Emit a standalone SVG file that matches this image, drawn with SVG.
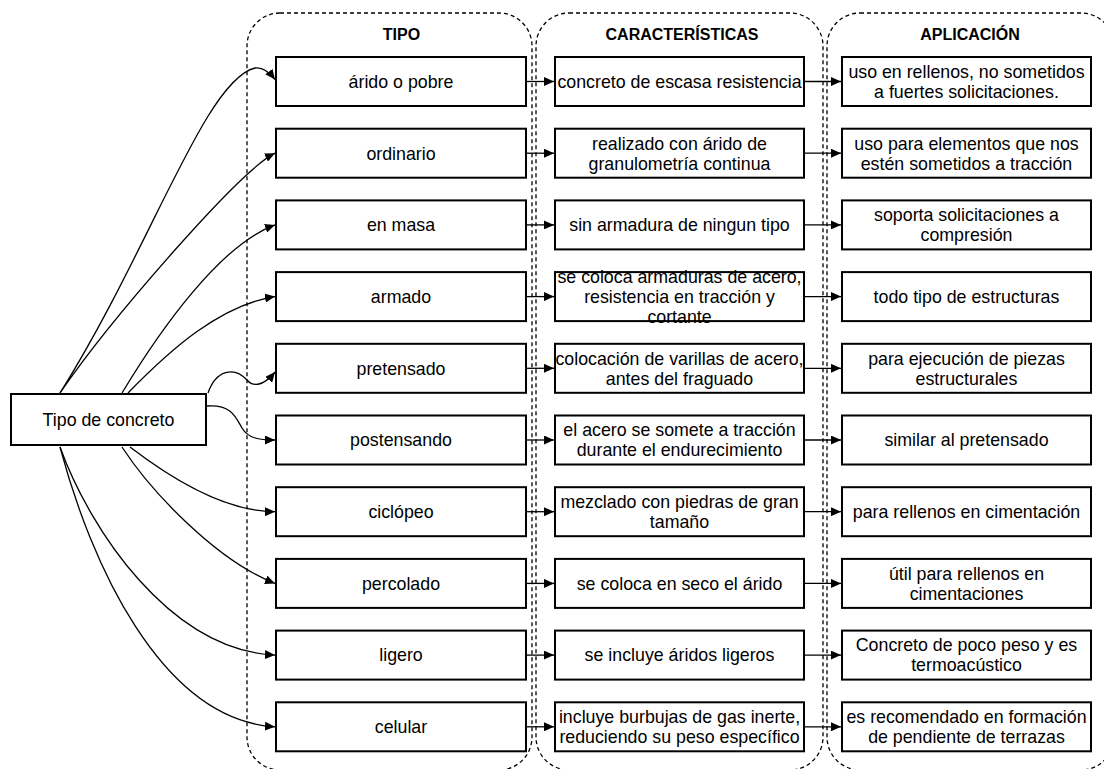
<svg xmlns="http://www.w3.org/2000/svg" width="1104" height="769" viewBox="0 0 1104 769">
<style>
.lane{fill:none;stroke:#000;stroke-width:1.3;stroke-dasharray:4 3}
.box{fill:none;stroke:#000;stroke-width:2}
.t{font-family:"Liberation Sans",Arial,sans-serif;font-size:17.8px;text-anchor:middle;fill:#000}
.h{font-family:"Liberation Sans",Arial,sans-serif;font-size:16px;font-weight:bold;text-anchor:middle;fill:#000}
.c{fill:none;stroke:#000;stroke-width:1.3;marker-end:url(#arr)}
</style>
<defs>
<marker id="arr" markerWidth="10" markerHeight="9" refX="10" refY="4.5" orient="auto" markerUnits="userSpaceOnUse"><path d="M0,0 L10,4.5 L0,9 Z" fill="#000"/></marker>
</defs>
<rect width="1104" height="769" fill="#fff"/>
<g id="lane-tipo"><rect class="lane" x="247" y="13" width="285" height="757" rx="33"/><text class="h" x="401.5" y="40">TIPO</text></g>
<g id="lane-caracteristicas"><rect class="lane" x="536" y="13" width="287" height="757" rx="33"/><text class="h" x="682" y="40">CARACTERÍSTICAS</text></g>
<g id="lane-aplicacion"><rect class="lane" x="827" y="13" width="287" height="757" rx="33"/><text class="h" x="970" y="40">APLICACIÓN</text></g>

<g id="connectors">
<path class="c" d="M60,393 C150,250 205,80 255,68 C263,67 270,73 275,79.5"/>
<path class="c" d="M60,393 C110,320 240,170 275,153.2"/>
<path class="c" d="M122,393 C160,330 220,245 275,224.9"/>
<path class="c" d="M128,393 C170,350 220,305 275,296.6"/>
<path class="c" d="M208,393 C216,370 234,366 247,380 C252,386 262,388 275,372"/>
<path class="c" d="M207,406 C232,404 236,418 242,428 C248,438 258,440 275,440"/>
<path class="c" d="M130,447 C160,470 220,511.7 275,511.7"/>
<path class="c" d="M122,447 C150,490 215,560 275,583.4"/>
<path class="c" d="M60,447 C90,530 170,650 275,655.1"/>
<path class="c" d="M60,447 C90,560 160,720 275,726.8"/>
<path class="c" d="M527,81.5 H554"/><path class="c" d="M805,81.5 H841"/>
<path class="c" d="M527,153.2 H554"/><path class="c" d="M805,153.2 H841"/>
<path class="c" d="M527,224.9 H554"/><path class="c" d="M805,224.9 H841"/>
<path class="c" d="M527,296.6 H554"/><path class="c" d="M805,296.6 H841"/>
<path class="c" d="M527,368.3 H554"/><path class="c" d="M805,368.3 H841"/>
<path class="c" d="M527,440 H554"/><path class="c" d="M805,440 H841"/>
<path class="c" d="M527,511.7 H554"/><path class="c" d="M805,511.7 H841"/>
<path class="c" d="M527,583.4 H554"/><path class="c" d="M805,583.4 H841"/>
<path class="c" d="M527,655.1 H554"/><path class="c" d="M805,655.1 H841"/>
<path class="c" d="M527,726.8 H554"/><path class="c" d="M805,726.8 H841"/>
</g>

<g id="tipo-de-concreto"><text class="t" x="108.5" y="426.3">Tipo de concreto</text><rect class="box" x="11" y="394" width="195" height="51"/></g>

<g id="tipo-arido"><text class="t" x="401" y="87.8">árido o pobre</text><rect class="box" x="276" y="57" width="250" height="49"/></g>
<g id="tipo-ordinario"><text class="t" x="401" y="159.5">ordinario</text><rect class="box" x="276" y="128.7" width="250" height="49"/></g>
<g id="tipo-masa"><text class="t" x="401" y="231.2">en masa</text><rect class="box" x="276" y="200.4" width="250" height="49"/></g>
<g id="tipo-armado"><text class="t" x="401" y="302.9">armado</text><rect class="box" x="276" y="272.1" width="250" height="49"/></g>
<g id="tipo-pretensado"><text class="t" x="401" y="374.6">pretensado</text><rect class="box" x="276" y="343.8" width="250" height="49"/></g>
<g id="tipo-postensando"><text class="t" x="401" y="446.3">postensando</text><rect class="box" x="276" y="415.5" width="250" height="49"/></g>
<g id="tipo-ciclopeo"><text class="t" x="401" y="518">ciclópeo</text><rect class="box" x="276" y="487.2" width="250" height="49"/></g>
<g id="tipo-percolado"><text class="t" x="401" y="589.7">percolado</text><rect class="box" x="276" y="558.9" width="250" height="49"/></g>
<g id="tipo-ligero"><text class="t" x="401" y="661.4">ligero</text><rect class="box" x="276" y="630.6" width="250" height="49"/></g>
<g id="tipo-celular"><text class="t" x="401" y="733.1">celular</text><rect class="box" x="276" y="702.3" width="250" height="49"/></g>

<g id="car-0"><text class="t" x="679.5" y="87.8">concreto de escasa resistencia</text><rect class="box" x="555" y="57" width="249" height="49"/></g>
<g id="car-1"><text class="t" x="679.5" y="149.5">realizado con árido de</text><text class="t" x="679.5" y="169.5">granulometría continua</text><rect class="box" x="555" y="128.7" width="249" height="49"/></g>
<g id="car-2"><text class="t" x="679.5" y="231.2">sin armadura de ningun tipo</text><rect class="box" x="555" y="200.4" width="249" height="49"/></g>
<g id="car-3"><text class="t" x="679.5" y="282.9">se coloca armaduras de acero,</text><text class="t" x="679.5" y="302.9">resistencia en tracción y</text><text class="t" x="679.5" y="322.9">cortante</text><rect class="box" x="555" y="272.1" width="249" height="49"/></g>
<g id="car-4"><text class="t" x="679.5" y="364.6">colocación de varillas de acero,</text><text class="t" x="679.5" y="384.6">antes del fraguado</text><rect class="box" x="555" y="343.8" width="249" height="49"/></g>
<g id="car-5"><text class="t" x="679.5" y="436.3">el acero se somete a tracción</text><text class="t" x="679.5" y="456.3">durante el endurecimiento</text><rect class="box" x="555" y="415.5" width="249" height="49"/></g>
<g id="car-6"><text class="t" x="679.5" y="508">mezclado con piedras de gran</text><text class="t" x="679.5" y="528">tamaño</text><rect class="box" x="555" y="487.2" width="249" height="49"/></g>
<g id="car-7"><text class="t" x="679.5" y="589.7">se coloca en seco el árido</text><rect class="box" x="555" y="558.9" width="249" height="49"/></g>
<g id="car-8"><text class="t" x="679.5" y="661.4">se incluye áridos ligeros</text><rect class="box" x="555" y="630.6" width="249" height="49"/></g>
<g id="car-9"><text class="t" x="679.5" y="723.1">incluye burbujas de gas inerte,</text><text class="t" x="679.5" y="743.1">reduciendo su peso específico</text><rect class="box" x="555" y="702.3" width="249" height="49"/></g>

<g id="apl-0"><text class="t" x="966.5" y="77.8">uso en rellenos, no sometidos</text><text class="t" x="966.5" y="97.8">a fuertes solicitaciones.</text><rect class="box" x="842" y="57" width="249" height="49"/></g>
<g id="apl-1"><text class="t" x="966.5" y="149.5">uso para elementos que nos</text><text class="t" x="966.5" y="169.5">estén sometidos a tracción</text><rect class="box" x="842" y="128.7" width="249" height="49"/></g>
<g id="apl-2"><text class="t" x="966.5" y="221.2">soporta solicitaciones a</text><text class="t" x="966.5" y="241.2">compresión</text><rect class="box" x="842" y="200.4" width="249" height="49"/></g>
<g id="apl-3"><text class="t" x="966.5" y="302.9">todo tipo de estructuras</text><rect class="box" x="842" y="272.1" width="249" height="49"/></g>
<g id="apl-4"><text class="t" x="966.5" y="364.6">para ejecución de piezas</text><text class="t" x="966.5" y="384.6">estructurales</text><rect class="box" x="842" y="343.8" width="249" height="49"/></g>
<g id="apl-5"><text class="t" x="966.5" y="446.3">similar al pretensado</text><rect class="box" x="842" y="415.5" width="249" height="49"/></g>
<g id="apl-6"><text class="t" x="966.5" y="518">para rellenos en cimentación</text><rect class="box" x="842" y="487.2" width="249" height="49"/></g>
<g id="apl-7"><text class="t" x="966.5" y="579.7">útil para rellenos en</text><text class="t" x="966.5" y="599.7">cimentaciones</text><rect class="box" x="842" y="558.9" width="249" height="49"/></g>
<g id="apl-8"><text class="t" x="966.5" y="651.4">Concreto de poco peso y es</text><text class="t" x="966.5" y="671.4">termoacústico</text><rect class="box" x="842" y="630.6" width="249" height="49"/></g>
<g id="apl-9"><text class="t" x="966.5" y="723.1">es recomendado en formación</text><text class="t" x="966.5" y="743.1">de pendiente de terrazas</text><rect class="box" x="842" y="702.3" width="249" height="49"/></g>
</svg>
